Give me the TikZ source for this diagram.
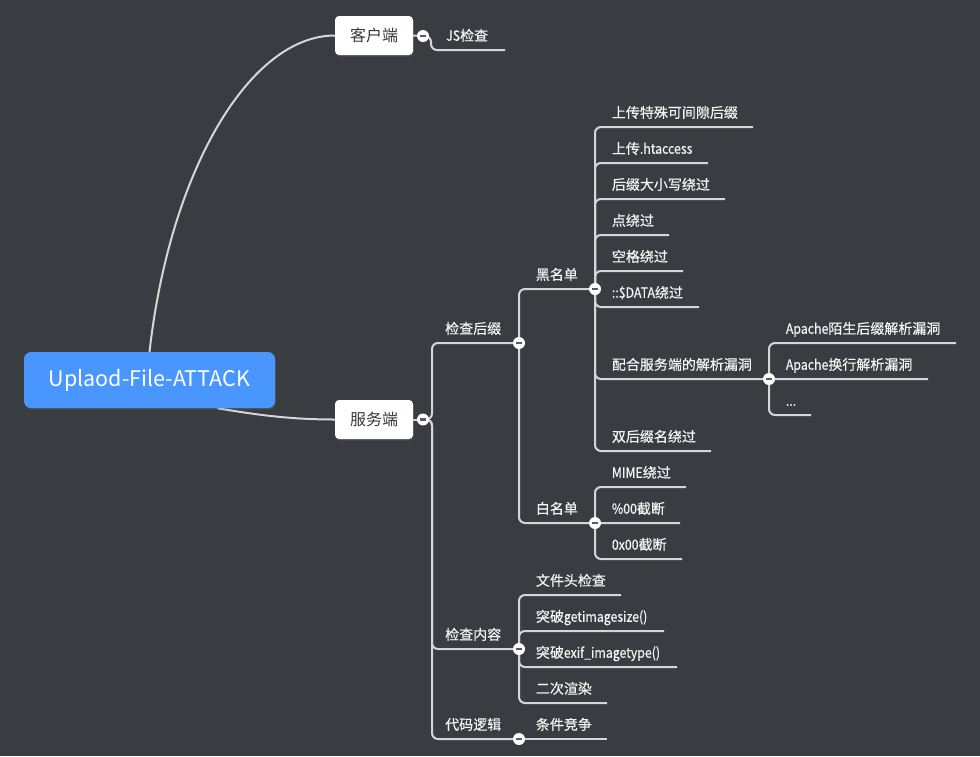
\documentclass[tikz,border=0pt]{standalone}
\usepackage{fontspec}
\setmainfont{Noto Sans CJK SC}
\newfontfamily\leaffont[FakeBold=0.45]{Noto Sans CJK SC}
\newfontfamily\latfont[FakeBold=0.45,FakeStretch=0.88]{Noto Sans CJK SC}
\newcommand\latn[1]{{\latfont #1}}
\usetikzlibrary{shadows}
\definecolor{bgc}{HTML}{393C41}
\definecolor{linec}{HTML}{D6D6D6}
\definecolor{rootc}{HTML}{4A96FF}
\definecolor{boxtext}{HTML}{383838}
\definecolor{minusc}{HTML}{5A5A5A}
\definecolor{leaftext}{HTML}{F4F4F4}
\pgfdeclarelayer{bg}
\pgfsetlayers{bg,main}
\tikzset{
  conn/.style={draw=linec, line width=2pt, rounded corners=6pt},
  curveconn/.style={draw=linec, line width=2pt},
  rootbox/.style={rectangle, rounded corners=7pt, fill=rootc, text=white,
    font=\fontsize{21.5}{26}\selectfont, minimum width=251pt, minimum height=56pt, inner sep=0pt,
    drop shadow={opacity=0.25, shadow xshift=0.8pt, shadow yshift=-1.5pt}},
  mainbox/.style={rectangle, rounded corners=4pt, fill=white, text=boxtext,
    font=\fontsize{16}{19}\selectfont, minimum width=78pt, minimum height=39pt, inner sep=0pt,
    drop shadow={opacity=0.25, shadow xshift=0.8pt, shadow yshift=-1.5pt}},
  leaf/.style={anchor=west, inner sep=0pt, text=leaftext, font=\leaffont\fontsize{14}{17}\selectfont,
    text height=11pt, text depth=1.5pt},
  fold/.style={circle, fill=white, minimum size=12pt, inner sep=0pt,
    path picture={\fill[minusc] ([xshift=-3.2pt,yshift=-1.1pt]path picture bounding box.center)
      rectangle ([xshift=3.2pt,yshift=1.1pt]path picture bounding box.center);}},
}
\begin{document}
\begin{tikzpicture}[x=1pt,y=-1pt]
\begin{pgfonlayer}{bg}
  \fill[bgc] (0,0) rectangle (980,756);
\end{pgfonlayer}
\useasboundingbox (0,0) rectangle (980,756);

% main nodes
\node[rootbox] (root) at (149.5,380) {Uplaod-File-ATTACK};
\node[mainbox] (client) at (374,35.5) {客户端};
\node[mainbox] (server) at (374,419.5) {服务端};

% fold circles
\node[fold] (f-client) at (423,36) {};
\node[fold] (f-server) at (423,419.5) {};
\node[fold] (f-suffix) at (519,343) {};
\node[fold] (f-black) at (595,289) {};
\node[fold] (f-white) at (595,523) {};
\node[fold] (f-parse) at (769,379) {};
\node[fold] (f-content) at (519,649) {};
\node[fold] (f-logic) at (519,739) {};

% labels
\node[leaf] (t-js) at (446,36) {\latn{JS}检查};
\node[leaf] (t-suffix) at (445,329) {检查后缀};
\node[leaf] (t-content) at (445,635) {检查内容};
\node[leaf] (t-logic) at (445,725) {代码逻辑};
\node[leaf] (t-black) at (535.7,275) {黑名单};
\node[leaf] (t-white) at (535.7,509) {白名单};
\node[leaf] (t-b1) at (611.7,113) {上传特殊可间隙后缀};
\node[leaf] (t-b2) at (611.7,149) {上传\latn{.htaccess}};
\node[leaf] (t-b3) at (611.7,185) {后缀大小写绕过};
\node[leaf] (t-b4) at (611.7,221) {点绕过};
\node[leaf] (t-b5) at (611.7,257) {空格绕过};
\node[leaf] (t-b6) at (611.7,293) {\latn{::\$DATA}绕过};
\node[leaf] (t-b7) at (611.7,365) {配合服务端的解析漏洞};
\node[leaf] (t-b8) at (611.7,437) {双后缀名绕过};
\node[leaf] (t-p1) at (785.7,329) {\latn{Apache}陌生后缀解析漏洞};
\node[leaf] (t-p2) at (785.7,365) {\latn{Apache}换行解析漏洞};
\node[leaf] (t-p3) at (785.7,401) {\latn{...}};
\node[leaf] (t-w1) at (611.7,473) {\latn{MIME}绕过};
\node[leaf] (t-w2) at (611.7,509) {\latn{\%00}截断};
\node[leaf] (t-w3) at (611.7,545) {\latn{0x00}截断};
\node[leaf] (t-c1) at (535.7,581) {文件头检查};
\node[leaf] (t-c2) at (535.7,617) {突破\latn{getimagesize()}};
\node[leaf] (t-c3) at (535.7,653) {突破\latn{exif\_imagetype()}};
\node[leaf] (t-c4) at (535.7,689) {二次渲染};
\node[leaf] (t-race) at (535.7,725) {条件竞争};

% underline ends
\coordinate (e-js) at (505,50);
\coordinate (e-b1) at (753,127);
\coordinate (e-b2) at (708,163);
\coordinate (e-b3) at (725,199);
\coordinate (e-b4) at (669,235);
\coordinate (e-b5) at (683,271);
\coordinate (e-b6) at (699,307);
\coordinate (e-b8) at (711,451);
\coordinate (e-p1) at (956,343);
\coordinate (e-p2) at (928,379);
\coordinate (e-p3) at (811,415);
\coordinate (e-w1) at (686,487);
\coordinate (e-w2) at (680,523);
\coordinate (e-w3) at (682,559);
\coordinate (e-c1) at (621,595);
\coordinate (e-c2) at (664,631);
\coordinate (e-c3) at (677,667);
\coordinate (e-c4) at (607,703);
\coordinate (e-race) at (607,739);

\begin{pgfonlayer}{bg}
  % root connectors
  \draw[curveconn] (root.north) .. controls (170,170) and (250,35.5) .. (client.west);
  \draw[curveconn] ([xshift=68pt]root.south) .. controls (252,414) and (287,419.5) .. (server.west);
  \draw[curveconn] (client.east) -- (f-client.center);
  \draw[curveconn] (server.east) -- (f-server.center);
  % client
  \draw[conn] (f-client.center) -- ++(8,0) |- (e-js);
  % server
  \draw[conn] (f-server.center) -- ++(9,0) |- (f-suffix.center);
  \draw[conn] (f-server.center) -- ++(9,0) |- (f-content.center);
  \draw[conn] (f-server.center) -- ++(9,0) |- (f-logic.center);
  % suffix
  \draw[conn] (f-suffix.center) |- (f-black.center);
  \draw[conn] (f-suffix.center) |- (f-white.center);
  % black list
  \foreach \e in {e-b1,e-b2,e-b3,e-b4,e-b5,e-b6,e-b8}
    \draw[conn] (f-black.center) |- (\e);
  \draw[conn] (f-black.center) |- (f-parse.center);
  % parse
  \foreach \e in {e-p1,e-p2,e-p3}
    \draw[conn] (f-parse.center) |- (\e);
  % white list
  \foreach \e in {e-w1,e-w2,e-w3}
    \draw[conn] (f-white.center) |- (\e);
  % content
  \foreach \e in {e-c1,e-c2,e-c3,e-c4}
    \draw[conn] (f-content.center) |- (\e);
  % logic
  \draw[conn] (f-logic.center) -- (e-race);
\end{pgfonlayer}
\end{tikzpicture}
\end{document}
